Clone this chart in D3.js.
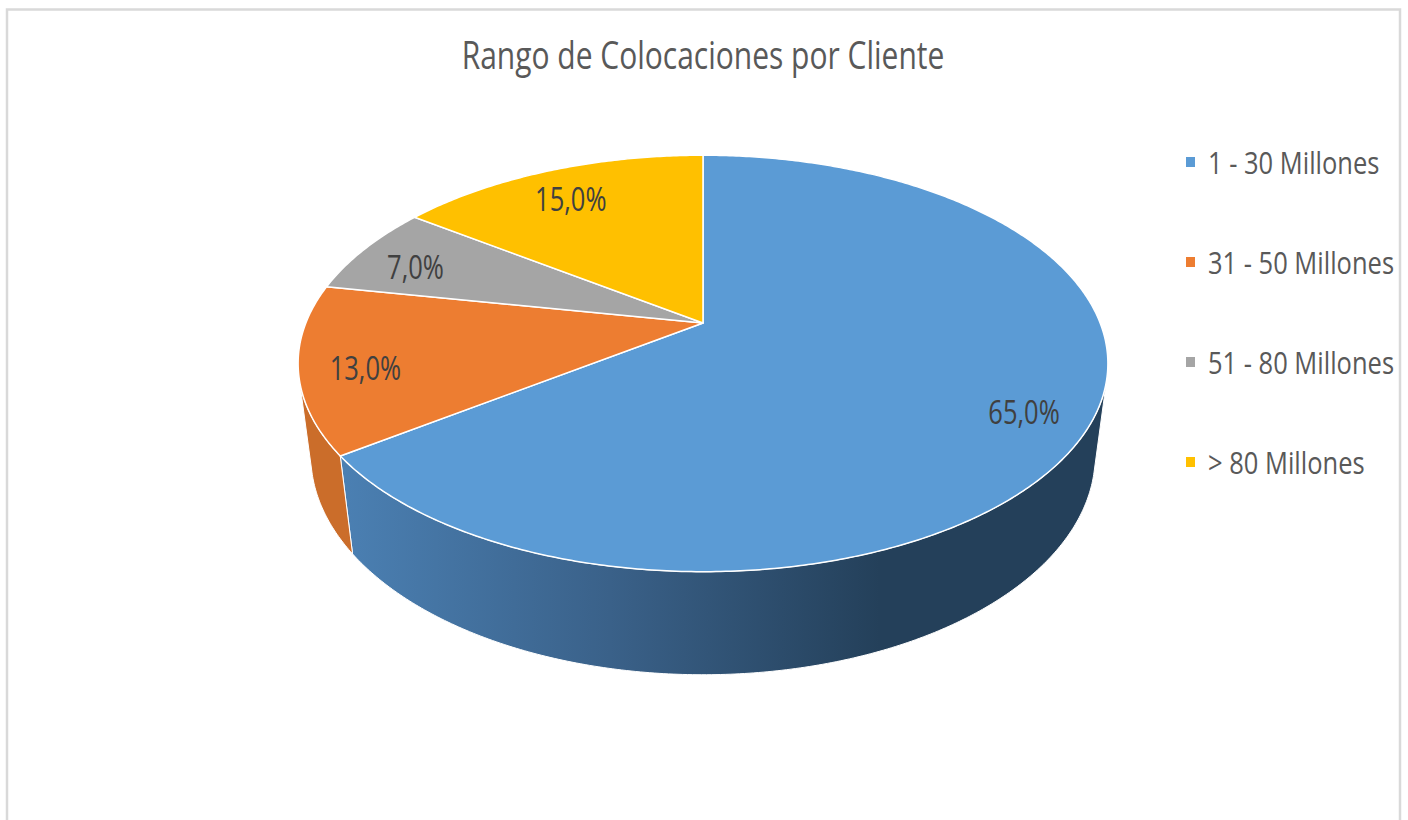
<!DOCTYPE html>
<html>
<head>
<meta charset="utf-8">
<script src="https://cdn.jsdelivr.net/npm/d3@7"></script>
<style>
    body { margin: 0; background: #fff; }
    svg { display: block; }
    text { font-family: "Open Sans", sans-serif; }
</style>
</head>
<body>
<main></main>
<script>
const categories = ['1 - 30 Millones', '31 - 50 Millones', '51 - 80 Millones', '> 80 Millones'];
const values = [65, 13, 7, 15];
const labels = ['65,0%', '13,0%', '7,0%', '15,0%'];
const colors = ['#5b9bd5', '#ed7d31', '#a5a5a5', '#ffc000'];
const wallColors = [['#4b80b3', '#3a6189', '#24405a'], ['#cb6d2a', '#c4662a', '#b85f25']];

const width = 1408;
const height = 820;

// fake 3d camera, tuned by eye
const cx = 703;
const cy = 323;
const k = 1765;
const dist = 4.444;
const tilt = 30.3 * Math.PI / 180;
const thick = 0.274;
const sinT = Math.sin(tilt);
const cosT = Math.cos(tilt);

// phi measured clockwise from 12 o'clock, r in disk units, y = 0 top face, -thick bottom
const project = (phi, r, y) => {
    const X = r * Math.sin(phi);
    const Z = -r * Math.cos(phi);
    const depth = dist - y * sinT - Z * cosT;
    const up = y * cosT - Z * sinT;
    return [cx + k * X / depth, cy - k * up / depth];
};

const arcPoints = (a0, a1, y) => {
    const n = Math.max(2, Math.ceil((a1 - a0) / 0.01));
    return d3.range(n + 1).map(i => project(a0 + (a1 - a0) * i / n, 1, y));
};

const pie = d3.pie().sort(null).value(d => d)(values);
const line = d3.line();

const svg = d3.select('main')
    .append('svg')
    .attr('width', width)
    .attr('height', height);

// chart area border
svg.append('rect')
    .attr('x', 7)
    .attr('y', 9.5)
    .attr('width', 1393)
    .attr('height', 900)
    .attr('fill', 'none')
    .attr('stroke', '#d9d9d9')
    .attr('stroke-width', 2.5);

svg.append('text')
    .text('Rango de Colocaciones por Cliente')
    .attr('transform', `translate(${cx} 55) scale(1 1.25)`)
    .attr('text-anchor', 'middle')
    .attr('dominant-baseline', 'central')
    .attr('font-size', 30)
    .attr('fill', '#595959');

const defs = svg.append('defs');

// outer wall, only the part that faces the camera
const visMin = Math.acos(-1 / (dist * cosT));
const visMax = 2 * Math.PI - visMin;

pie.forEach((d, i) => {
    const a0 = Math.max(d.startAngle, visMin);
    const a1 = Math.min(d.endAngle, visMax);
    if (a1 <= a0) return;
    const top = arcPoints(a0, a1, 0);
    const bottom = arcPoints(a0, a1, -thick).reverse();
    const stops = wallColors[i] || [colors[i], colors[i], colors[i]];
    const grad = defs.append('linearGradient')
        .attr('id', `wall${i}`)
        .attr('gradientUnits', 'userSpaceOnUse')
        .attr('x1', 340).attr('x2', 880)
        .attr('y1', 0).attr('y2', 0);
    stops.forEach((c, j) => grad.append('stop').attr('offset', j / (stops.length - 1)).attr('stop-color', c));
    svg.append('path')
        .attr('d', line([...top, ...bottom]) + 'Z')
        .attr('fill', `url(#wall${i})`)
        .attr('stroke', '#ffffff')
        .attr('stroke-width', 1)
        .attr('stroke-linejoin', 'round');
});

// top faces
pie.forEach((d, i) => {
    const pts = [project(0, 0, 0), ...arcPoints(d.startAngle, d.endAngle, 0)];
    svg.append('path')
        .attr('d', line(pts) + 'Z')
        .attr('fill', colors[i])
        .attr('stroke', '#ffffff')
        .attr('stroke-width', 1.5)
        .attr('stroke-linejoin', 'round');
});

// data labels
pie.forEach((d, i) => {
    const mid = (d.startAngle + d.endAngle) / 2;
    const [x, y] = project(mid, 0.84, 0);
    svg.append('text')
        .text(labels[i])
        .attr('transform', `translate(${x} ${y + 6}) scale(1 1.25)`)
        .attr('text-anchor', 'middle')
        .attr('dominant-baseline', 'central')
        .attr('font-size', 25.5)
        .attr('fill', '#404040');
});

// legend
const legend = svg.selectAll('g.legend')
    .data(categories)
    .enter()
    .append('g')
    .attr('class', 'legend')
    .attr('transform', (d, i) => `translate(1186 ${162 + i * 100})`);

legend.append('rect')
    .attr('x', 0)
    .attr('y', -5)
    .attr('width', 9)
    .attr('height', 10)
    .attr('fill', (d, i) => colors[i]);

legend.append('text')
    .text(d => d)
    .attr('transform', 'translate(22 0) scale(1 1.2)')
    .attr('dominant-baseline', 'central')
    .attr('font-size', 25.5)
    .attr('fill', '#595959');
</script>
</body>
</html>
